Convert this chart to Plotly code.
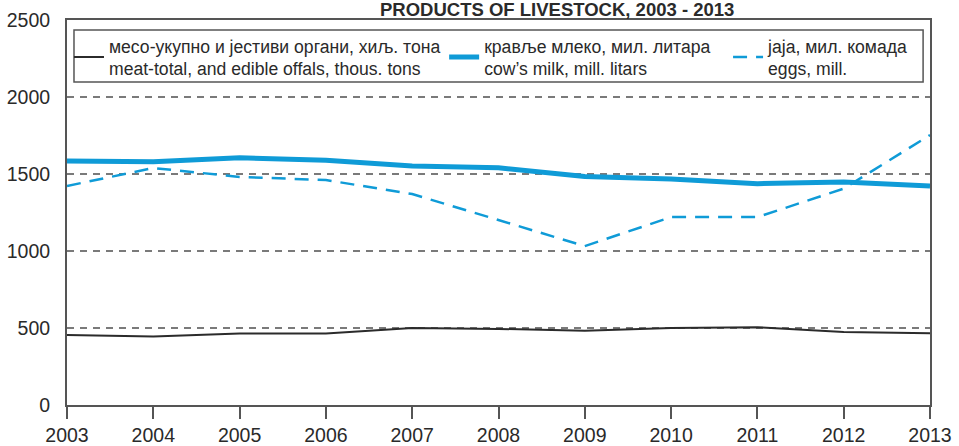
import plotly.graph_objects as go

years = list(range(2003, 2014))
meat = [455, 445, 465, 465, 500, 494, 482, 500, 505, 474, 466]
milk = [1584, 1580, 1605, 1590, 1552, 1540, 1484, 1467, 1437, 1448, 1422]
eggs = [1422, 1539, 1481, 1461, 1370, 1203, 1032, 1220, 1220, 1405, 1753]

name_meat = "месо-укупно и јестиви органи, хиљ. тона<br>meat-total, and edible offals, thous. tons"
name_milk = "крављe млеко, мил. литара<br>cow’s milk, mill. litars"
name_eggs = "јаја, мил. комада<br>eggs, mill."
title = "<b>PRODUCTS OF LIVESTOCK, 2003 - 2013</b>"
y_ticks = [0, 500, 1000, 1500, 2000, 2500]

BLUE = "#0f9bd7"
TXT = "#2a2a2a"
FONT = "Liberation Sans, Arial, sans-serif"

fig = go.Figure()
fig.add_trace(go.Scatter(x=years, y=meat, mode="lines", name=name_meat, legend="legend",
                         line=dict(color="#2b2b2b", width=2)))
fig.add_trace(go.Scatter(x=years, y=milk, mode="lines", name=name_milk, legend="legend2",
                         line=dict(color=BLUE, width=5)))
fig.add_trace(go.Scatter(x=years, y=eggs, mode="lines", name=name_eggs, legend="legend3",
                         line=dict(color=BLUE, width=2.5, dash="14px,9px")))

# dashed grid lines at inner ticks
for v in y_ticks[1:-1]:
    fig.add_hline(y=v, line=dict(color="#7a7a7a", width=2, dash="7px,6px"), layer="below")

# legend frame
fig.add_shape(type="rect", xref="paper", yref="paper", x0=0.0081, x1=0.992, y0=0.839, y1=0.974,
              line=dict(color="#555", width=1.5), fillcolor="white", layer="below")

leg_common = dict(orientation="h", xanchor="left", yanchor="top", y=0.980,
                  bgcolor="rgba(0,0,0,0)", borderwidth=0,
                  font=dict(size=17.6, family=FONT, color=TXT))

fig.update_layout(
    width=959, height=446,
    margin=dict(l=67, r=29, t=20, b=41),
    paper_bgcolor="white", plot_bgcolor="white",
    font=dict(family=FONT, color=TXT, size=19.5),
    showlegend=True,
    legend=dict(x=0.0023, **leg_common),
    legend2=dict(x=0.437, **leg_common),
    legend3=dict(x=0.766, **leg_common),
    annotations=[dict(text=title, xref="paper", yref="paper", x=0.568, y=1,
                      yanchor="bottom", yshift=-2, showarrow=False,
                      font=dict(size=18.5, family=FONT, color=TXT))],
)
fig.update_xaxes(range=[2003, 2013], tickmode="array", tickvals=years,
                 ticks="outside", ticklen=12, tickwidth=2, tickcolor="#555",
                 showgrid=False, showline=True, linecolor="#555", linewidth=2,
                 mirror=True, zeroline=False, automargin=False)
fig.update_yaxes(range=[0, 2500], tickmode="array", tickvals=y_ticks,
                 ticks="", showgrid=False, showline=True, linecolor="#555",
                 linewidth=2, mirror=True, zeroline=False, ticklabelstandoff=11,
                 automargin=False)

fig.write_html("out.html", config={"displayModeBar": False},
               post_script="document.body.style.margin='0';")
